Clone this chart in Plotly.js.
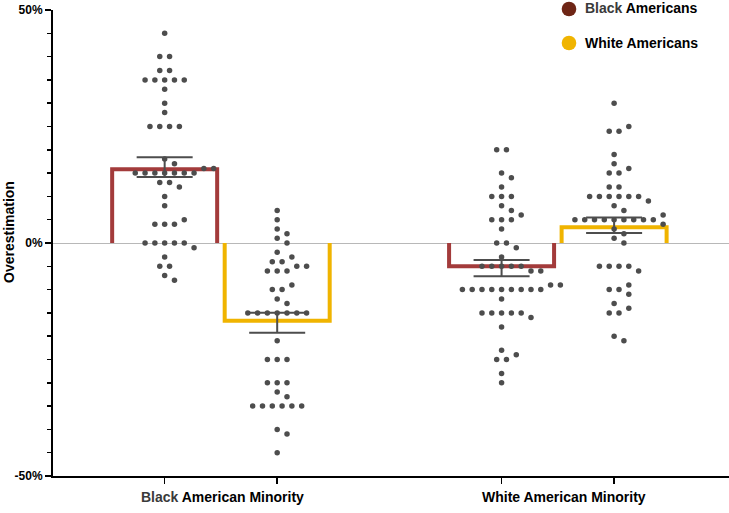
<!DOCTYPE html>
<html>
<head>
<meta charset="utf-8">
<script src="https://cdn.plot.ly/plotly-3.0.1.min.js"></script>
<style>
html,body{margin:0;padding:0;background:#fff;}
#chart{width:729px;height:513px;}
</style>
</head>
<body>
<div id="chart"></div>
<script>
// ---- Data ----
const groups = ["Black American Minority", "White American Minority"];
const seriesNames = ["Black Americans", "White Americans"];

// Overestimation (%) per participant
const blackMinority_blackAmericans = [45, 40, 40, 37, 37, 35, 35, 35, 35, 35, 33, 30, 28, 25, 25, 25, 25, 18, 17, 16, 16,
  15, 15, 15, 15, 15, 15, 15, 13, 13, 12, 10, 8, 5, 4, 4, 4, 0, 0, 0, 0, 0, -1, -3, -5, -5, -7, -8];
const blackMinority_whiteAmericans = [7, 5, 3, 2, 1, 0, -2, -3, -4, -4, -5, -5, -6, -6, -6, -9, -10, -10, -12, -13,
  -15, -15, -15, -15, -15, -15, -15, -21, -25, -25, -25, -30, -30, -30, -32, -33,
  -35, -35, -35, -35, -35, -35, -40, -41, -45];
const whiteMinority_blackAmericans = [20, 20, 15, 14, 12, 10, 10, 10, 8, 7, 6, 5, 5, 5, 3, 0, 0, -1, -3,
  -5, -5, -5, -5, -5, -6, -6, -9, -9, -10, -10, -10, -10, -10, -10, -10, -10, -10, -12,
  -15, -15, -15, -15, -15, -16, -18, -23, -24, -25, -25, -28, -30];
const whiteMinority_whiteAmericans = [30, 25, 24, 24, 19, 17, 16, 15, 15, 12, 12, 10, 10, 10, 10, 10, 10, 9, 8, 7, 6,
  5, 5, 5, 5, 5, 5, 5, 5, 5, 4, 3, 2, 1, 0, -5, -5, -5, -5, -6, -9, -10, -10, -11, -13, -14, -15, -15, -20, -21];

const yTickVals = [-50, 0, 50];
const yTickText = ["-50%", "0%", "50%"];

// ---- Styling / geometry constants ----
const FONT = "Liberation Sans, Arial, Helvetica, sans-serif";
const barColors = ["#a33b3b", "#f0b400"];
const legendColors = ["#6e2515", "#f0b400"];
const dotColor = "#4d4d4d";
const M = {l: 53, r: 0, t: 10, b: 37};
const plotW = 729 - M.l - M.r, plotH = 513 - M.t - M.b;
const xRange = [-0.4984, 1.508];
const yRange = [-50, 50];
const pxPerX = plotW / (xRange[1] - xRange[0]);
const pxPerY = plotH / (yRange[1] - yRange[0]);
const barOffset = 0.167;           // data units from group centre
const barLineW = 4;                // px
const barOuterHalfPx = 54.5;       // px
const barHalf = (barOuterHalfPx - barLineW / 2) / pxPerX;
const dotSlot = 9.8;               // px horizontal spacing of dots
const dotMinDist = 9;              // px

const dataBy = [
  [blackMinority_blackAmericans, blackMinority_whiteAmericans],
  [whiteMinority_blackAmericans, whiteMinority_whiteAmericans]
];

function mean(a){ return a.reduce((s,v)=>s+v,0)/a.length; }
function sem(a){ const m=mean(a); const v=a.reduce((s,x)=>s+(x-m)*(x-m),0)/(a.length-1); return Math.sqrt(v)/Math.sqrt(a.length); }

// simple beeswarm in pixel space
function swarm(values, cx){
  const counts = new Map();
  values.forEach(v => counts.set(v, (counts.get(v)||0)+1));
  const rows = Array.from(counts.entries()).sort((a,b)=> b[1]-a[1] || b[0]-a[0]);
  const placed = [];
  const xs = [], ys = [];
  const shifts = [0];
  for (let k=0.5;k<=20;k+=0.5){ shifts.push(k); shifts.push(-k); }
  rows.forEach(([v,n])=>{
    const py = v * pxPerY;
    const base = [];
    for (let k=0;k<n;k++) base.push((k-(n-1)/2)*dotSlot);
    for (const s of shifts){
      const cand = base.map(b=>b+s*dotSlot);
      let ok = true;
      for (const p of placed){
        const dy = p.y - py;
        if (Math.abs(dy) >= dotMinDist) continue;
        for (const c of cand){
          if (Math.hypot(p.x-c, dy) < dotMinDist - 0.01){ ok=false; break; }
        }
        if (!ok) break;
      }
      if (ok){
        cand.forEach(c=>{ placed.push({x:c,y:py}); xs.push(cx + c/pxPerX); ys.push(v); });
        break;
      }
    }
  });
  return {xs, ys};
}

const traces = [];
// bars (open outline, bottom on the zero line)
for (let s=0;s<2;s++){
  for (let g=0;g<2;g++){
    const c = g + (s===0 ? -barOffset : barOffset);
    const m = mean(dataBy[g][s]);
    const inset = (barLineW/2)/pxPerY * Math.sign(m);
    const top = m - inset;
    traces.push({
      type:"scatter", mode:"lines", hoverinfo:"skip", showlegend:false,
      x:[c-barHalf, c-barHalf, c+barHalf, c+barHalf],
      y:[0, top, top, 0],
      line:{color:barColors[s], width:barLineW, shape:"linear"},
      cliponaxis:false
    });
  }
}
// dots
for (let g=0;g<2;g++){
  for (let s=0;s<2;s++){
    const c = g + (s===0 ? -barOffset : barOffset);
    const sw = swarm(dataBy[g][s], c);
    traces.push({
      type:"scatter", mode:"markers", hoverinfo:"skip", showlegend:false,
      x:sw.xs, y:sw.ys, cliponaxis:false,
      marker:{color:dotColor, size:5.5, line:{width:0}}
    });
  }
}
// error bars (mean ± SEM)
for (let s=0;s<2;s++){
  const xs=[], ys=[], es=[];
  for (let g=0;g<2;g++){
    xs.push(g + (s===0 ? -barOffset : barOffset));
    ys.push(mean(dataBy[g][s]));
    es.push(sem(dataBy[g][s]));
  }
  traces.push({
    type:"scatter", mode:"markers", hoverinfo:"skip", showlegend:false,
    x:xs, y:ys, marker:{size:1, opacity:0},
    error_y:{type:"data", array:es, visible:true, color:"#4d4d4d", thickness:2, width:28}
  });
}

const tickXs = [];
for (let g=0;g<2;g++){ tickXs.push(g-barOffset, g+barOffset); }

const px2paperX = px => (px - M.l)/plotW;
const py2paperY = py => (513 - M.b - py)/plotH;

const annotations = [
  {text:"<b>Overestimation</b>", textangle:-90, xref:"paper", yref:"paper",
   x:px2paperX(9), y:py2paperY(232), xanchor:"center", yanchor:"middle", showarrow:false,
   font:{family:FONT, size:14, color:"#000"}},
  {text:'<b><span style="color:#3a3a3a">Black</span> American Minority</b>', xref:"paper", yref:"paper",
   x:px2paperX(222.5), y:py2paperY(497), xanchor:"center", yanchor:"middle", showarrow:false,
   font:{family:FONT, size:14, color:"#000"}},
  {text:'<b>White American Minority</b>', xref:"paper", yref:"paper",
   x:px2paperX(564), y:py2paperY(497), xanchor:"center", yanchor:"middle", showarrow:false,
   font:{family:FONT, size:14, color:"#000"}},
  {text:'<b><span style="color:#3a3a3a">' + seriesNames[0].split(" ")[0] + '</span> ' + seriesNames[0].split(" ")[1] + '</b>', xref:"paper", yref:"paper",
   x:px2paperX(583), y:py2paperY(8), xanchor:"left", yanchor:"middle", showarrow:false,
   font:{family:FONT, size:14, color:"#000"}},
  {text:'<b>' + seriesNames[1] + '</b>', xref:"paper", yref:"paper",
   x:px2paperX(583), y:py2paperY(43), xanchor:"left", yanchor:"middle", showarrow:false,
   font:{family:FONT, size:14, color:"#000"}}
];

const shapes = [0,1].map(i=>({
  type:"circle", xref:"paper", yref:"paper", xsizemode:"pixel", ysizemode:"pixel",
  xanchor:px2paperX(569), yanchor:py2paperY(i===0?9:43),
  x0:-7.3, x1:7.3, y0:-7.3, y1:7.3,
  fillcolor:legendColors[i], line:{width:0}
}));

const layout = {
  width:729, height:513,
  margin:{l:M.l, r:M.r, t:M.t, b:M.b, pad:0},
  paper_bgcolor:"#fff", plot_bgcolor:"#fff",
  showlegend:false,
  font:{family:FONT, color:"#000"},
  xaxis:{range:xRange, showgrid:false, zeroline:false,
    showline:true, linecolor:"#000", linewidth:2,
    tickmode:"array", tickvals:tickXs, ticktext:["","","",""],
    ticks:"outside", ticklen:6, tickwidth:1.5, tickcolor:"#000", fixedrange:true},
  yaxis:{range:yRange, showgrid:false,
    zeroline:true, zerolinecolor:"#b8b8b8", zerolinewidth:1,
    showline:true, linecolor:"#000", linewidth:2,
    tickmode:"array", tickvals:yTickVals, ticktext:yTickText.map(t=>"<b>"+t+"</b>"),
    ticks:"outside", ticklen:6, tickwidth:1.5, tickcolor:"#000",
    tickfont:{family:FONT, size:12, color:"#000"},
    minor:{dtick:5, tick0:0, ticks:"outside", ticklen:4, tickwidth:1.5, tickcolor:"#000", showgrid:false},
    fixedrange:true},
  annotations, shapes
};

Plotly.newPlot("chart", traces, layout, {displayModeBar:false, staticPlot:true});
</script>
</body>
</html>
